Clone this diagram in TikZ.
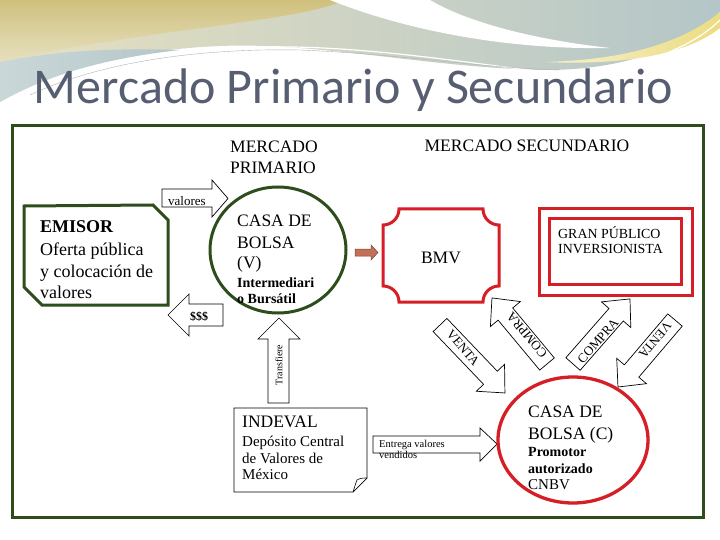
\documentclass[tikz,border=0pt]{standalone}
\usepackage{fontspec}
\setmainfont{Liberation Serif}
\newfontfamily\titlefont{Carlito}
\definecolor{frameG}{RGB}{45,78,28}
\definecolor{redR}{RGB}{214,30,38}
\definecolor{titleC}{RGB}{88,94,114}
\definecolor{brownA}{RGB}{196,112,88}
\definecolor{beigeA}{RGB}{208,192,125}
\definecolor{beigeB}{RGB}{230,224,192}
\definecolor{grayB}{RGB}{180,198,200}
\definecolor{yellA}{RGB}{236,220,130}
\newcommand{\blkarrow}[3]{%
  \begin{scope}[shift={#1}, rotate=#2]
    \draw[blockarr] (0,-9.5) -- (#3-21,-9.5) -- (#3-21,-19.5) -- (#3,0) -- (#3-21,19.5) -- (#3-21,9.5) -- (0,9.5) -- cycle;
  \end{scope}}
\begin{document}
\begin{tikzpicture}[x=1pt,y=-1pt,
  blockarr/.style={draw=black, line width=0.7pt, fill=white, line join=miter},
  tx/.style={inner sep=0, anchor=base west},
  fbig/.style={font=\fontsize{17.5}{21}\selectfont},
  femis/.style={font=\fontsize{18}{22}\selectfont},
  fmidb/.style={font=\bfseries\fontsize{14}{17}\selectfont},
  fmid/.style={font=\fontsize{15}{17}\selectfont},
  fgran/.style={font=\fontsize{13.9}{16}\selectfont},
  farr/.style={font=\fontsize{13}{15}\selectfont, inner sep=0},
  greenline/.style={draw=frameG, line width=3pt},
  redline/.style={draw=redR, line width=3pt}]
\useasboundingbox (0,0) rectangle (720,540);
\fill[white] (0,0) rectangle (720,540);

% decorative swoosh
\shade[left color=beigeB, right color=grayB]
  (0,0) -- (720,0) -- (720,12) .. controls (680,50) and (620,70) .. (545,70)
  .. controls (430,68) and (320,42) .. (220,46) .. controls (120,50) and (40,75) .. (0,102) -- cycle;
\shade[top color=beigeA, bottom color=beigeB]
  (0,0) -- (345,0) .. controls (300,22) and (150,28) .. (0,62) -- cycle;
\shade[left color=grayB!70!white, right color=grayB]
  (0,62) .. controls (60,50) and (120,48) .. (180,50) .. controls (90,60) and (40,80) .. (0,102) -- cycle;
\fill[white] (330,0) .. controls (400,28) and (500,50) .. (610,48)
  .. controls (520,38) and (460,18) .. (430,0) -- cycle;
\shade[left color=yellA!40!white, right color=yellA]
  (545,62) .. controls (620,60) and (680,45) .. (720,12) -- (720,28)
  .. controls (690,52) and (630,66) .. (545,62) -- cycle;
\draw[white, line width=1.2pt] (0,104) .. controls (60,70) and (150,50) .. (260,47)
  .. controls (360,45) and (460,62) .. (545,72) .. controls (620,78) and (690,50) .. (720,20);
\draw[gray!60, line width=0.4pt] (30,95) .. controls (100,62) and (200,48) .. (300,50)
  .. controls (400,54) and (480,68) .. (560,70);

% title
\node[font=\titlefont\fontsize{50}{60}\selectfont, text=titleC, anchor=base, inner sep=0] (title) at (353.5,104) {Mercado Primario y Secundario};

% frame
\draw[greenline] (12,126) rectangle (703,517);

% headings
\node[tx, fbig] (mp1) at (230,153) {MERCADO};
\node[tx, fbig] (mp2) at (230,174) {PRIMARIO};
\node[inner sep=0, anchor=base, fbig] (ms) at (527,152) {MERCADO SECUNDARIO};

% EMISOR
\draw[greenline] (24,206) -- (153,205) -- (168,220) -- (168,305) -- (42,305) -- (24,287) -- cycle;
\node[tx, femis, font=\bfseries\fontsize{18}{22}\selectfont] (em1) at (40,233) {EMISOR};
\node[tx, femis] (em2) at (40,255) {Oferta pública};
\node[tx, femis] (em3) at (40,277) {y colocación de};
\node[tx, femis] (em4) at (40,298) {valores};

% valores arrow
\draw[blockarr] (162,189) -- (212,189) -- (212,180) -- (228,198.5) -- (212,217) -- (212,207) -- (162,207) -- cycle;
\node[tx, font=\fontsize{13}{15}\selectfont] (val) at (168,206) {valores};

% $$$ arrow
\draw[blockarr] (223,304) -- (189,304) -- (189,294) -- (168,315) -- (189,336) -- (189,326) -- (223,326) -- cycle;
\node[inner sep=0, anchor=base, font=\bfseries\fontsize{12}{14}\selectfont] (dol) at (199,320) {\$\$\$};

% Casa de bolsa V
\draw[greenline] (278,250) ellipse [x radius=68pt, y radius=63pt];
\node[tx, fbig] (cv1) at (237,226) {CASA DE};
\node[tx, fbig] (cv2) at (237,248) {BOLSA};
\node[tx, fbig] (cv3) at (237,268) {(V)};
\node[tx, fmidb] (cv4) at (237,287) {Intermediari};
\node[tx, fmidb] (cv5) at (237,303) {o Bursátil};

% Transfiere arrow
\draw[blockarr] (268,403) -- (268,339) -- (258,339) -- (279,318) -- (300,339) -- (289,339) -- (289,403) -- cycle;
\node[inner sep=0, rotate=90, font=\fontsize{10}{12}\selectfont] (tra) at (279,365) {Transfiere};

% brown arrow
\draw[draw=brownA!60!black, line width=0.5pt, fill=brownA] (355,249) -- (371,249) -- (371,245) -- (378,252.5) -- (371,260) -- (371,256) -- (355,256) -- cycle;

% BMV
\draw[redline] (399,209) -- (483,209) arc[start angle=180, end angle=270, radius=16pt]
  -- (499,286) arc[start angle=90, end angle=180, radius=16pt]
  -- (399,302) arc[start angle=0, end angle=90, radius=16pt]
  -- (383,225) arc[start angle=-90, end angle=0, radius=16pt] -- cycle;
\node[inner sep=0, anchor=base, fbig] (bmv) at (441,263) {BMV};

% Gran publico
\draw[redline] (539,209) rectangle (692,295);
\draw[redline] (549,219) rectangle (681,284);
\node[tx, fgran] (gp1) at (558,238) {GRAN PÚBLICO};
\node[tx, fgran] (gp2) at (558,254) {INVERSIONISTA};

% diagonal arrows
\blkarrow{(440,325)}{-46.3}{94}
\node[farr, rotate=-50] (v1) at (463,348) {VENTA};
\blkarrow{(547,364)}{129.8}{86}
\node[farr, rotate=130] (c1) at (527,335) {COMPRA};
\blkarrow{(573,364)}{48.8}{86.5}
\node[farr, rotate=49] (c2) at (598,341) {COMPRA};
\blkarrow{(675,320)}{-130.4}{88}
\node[farr, rotate=-130] (v2) at (655,340) {VENTA};

% INDEVAL
\draw[black, line width=0.7pt, fill=white] (234,408) -- (367,408) -- (367,478) -- (353,492) -- (234,492) -- cycle;
\draw[black, line width=0.6pt] (353,492) .. controls (355,486) and (356,482) .. (357,480) .. controls (360,478) and (364,478) .. (367,478);
\node[tx, fbig] (in1) at (242,427) {INDEVAL};
\node[tx, fmid] (in2) at (242,446) {Depósito Central};
\node[tx, fmid] (in3) at (242,463) {de Valores de};
\node[tx, fmid] (in4) at (242,479) {México};

% Entrega arrow
\draw[blockarr] (373,436) -- (480,436) -- (480,428) -- (497,444) -- (480,461) -- (480,453) -- (373,453) -- cycle;
\node[tx, font=\fontsize{10.5}{12}\selectfont] (en1) at (379,447) {Entrega valores};
\node[tx, font=\fontsize{10.5}{12}\selectfont] (en2) at (379,458) {vendidos};

% Casa de bolsa C
\draw[redline, line width=3.3pt] (573,440) ellipse [x radius=75pt, y radius=63pt];
\node[tx, fbig] (cc1) at (528,417) {CASA DE};
\node[tx, fbig] (cc2) at (528,439) {BOLSA (C)};
\node[tx, fmidb] (cc3) at (528,456) {Promotor};
\node[tx, fmidb] (cc4) at (528,473) {autorizado};
\node[tx, fmid] (cc5) at (528,489) {CNBV};
\end{tikzpicture}
\end{document}
